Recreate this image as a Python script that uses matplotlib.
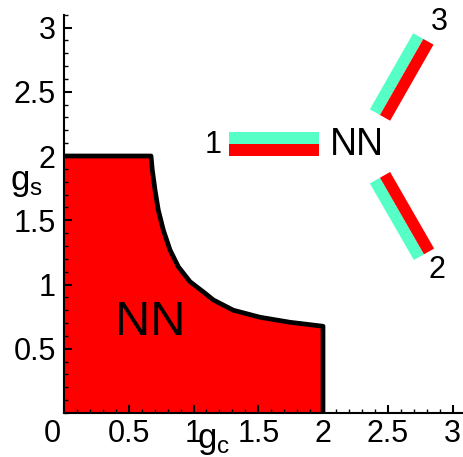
import numpy as np
import matplotlib
matplotlib.use("Agg")
import matplotlib.pyplot as plt
from matplotlib.ticker import MultipleLocator
from matplotlib.transforms import ScaledTranslation

plt.rcParams['font.family'] = ['Liberation Sans', 'DejaVu Sans']
plt.rcParams['mathtext.fontset'] = 'custom'
plt.rcParams['mathtext.rm'] = 'Liberation Sans'

# phase boundary of the NN region
gc_boundary = [0.0, 0.672, 0.682, 0.703, 0.728, 0.767, 0.819, 0.883, 0.973, 1.089,
               1.153, 1.307, 1.514, 1.745, 2.000, 2.000]
gs_boundary = [2.0, 2.000, 1.890, 1.735, 1.580, 1.424, 1.268, 1.138, 1.022, 0.932,
               0.880, 0.800, 0.745, 0.706, 0.675, 0.000]

x_ticks = [0, 0.5, 1, 1.5, 2, 2.5, 3]
x_labels = ['0', '0.5', '1', '1.5', '2', '2.5', '3']
y_ticks = [0.5, 1, 1.5, 2, 2.5, 3]
y_labels = ['0.5', '1', '1.5', '2', '2.5', '3']

region_label = 'NN'

# diagram arms: (inner point, outer point, side of cyan stripe, label, label position)
arm_inner = [(1.969, 2.093), (2.440, 1.831), (2.440, 2.319)]
arm_outer = [(1.274, 2.093), (2.780, 1.235), (2.775, 2.911)]
arm_cyan_side = [-1, -1, 1]
arm_labels = ['1', '2', '3']
arm_label_pos = [(1.151, 2.086), (2.880, 1.113), (2.896, 3.043)]
diagram_center = (2.263, 2.086)

CYAN = '#55FFC6'
RED = '#FF0000'

fig = plt.figure(figsize=(4.63, 4.57), dpi=100)
ax = fig.add_axes([64/463, 44/457, 3.1*129.5/463, 3.1*128.5/457])
ax.set_xlim(0, 3.1)
ax.set_ylim(0, 3.1)

ax.fill_between(gc_boundary, gs_boundary, 0, color=RED, linewidth=0, zorder=1)
ax.plot(gc_boundary, gs_boundary, color='black', lw=3.4, solid_joinstyle='round',
        solid_capstyle='butt', zorder=3, clip_on=False)

ax.text(0.664, 0.708, region_label, fontsize=35, ha='center', va='center', zorder=4)

# diagram
w = 0.09
for (p0, p1, side, lab, lp) in zip(arm_inner, arm_outer, arm_cyan_side, arm_labels, arm_label_pos):
    p0 = np.array(p0); p1 = np.array(p1)
    d = p1 - p0
    d = d / np.linalg.norm(d)
    n = np.array([-d[1], d[0]])
    for sgn, col in ((side, CYAN), (-side, RED)):
        poly = np.array([p0, p1, p1 + sgn * w * n, p0 + sgn * w * n])
        ax.fill(poly[:, 0], poly[:, 1], color=col, lw=0, zorder=2, clip_on=False)
    ax.text(lp[0], lp[1], lab, fontsize=22, ha='center', va='center', zorder=4)
ax.text(diagram_center[0], diagram_center[1], region_label, fontsize=27,
        ha='center', va='center', zorder=4)

# axes styling
for s in ('top', 'right'):
    ax.spines[s].set_visible(False)
for s in ('left', 'bottom'):
    ax.spines[s].set_linewidth(1.5)

ax.set_xticks(x_ticks)
ax.set_xticklabels(x_labels)
ax.set_yticks(y_ticks)
ax.set_yticklabels(y_labels)
ax.xaxis.set_minor_locator(MultipleLocator(0.1))
ax.yaxis.set_minor_locator(MultipleLocator(0.1))
ax.tick_params(which='major', direction='in', length=6, width=1.5, labelsize=22)
ax.tick_params(which='minor', direction='in', length=3, width=1)
ax.tick_params(axis='x', which='major', pad=4)
ax.tick_params(axis='y', which='major', pad=6)

lab0 = ax.get_xticklabels()[0]
lab0.set_transform(lab0.get_transform() + ScaledTranslation(-12/100, 0, fig.dpi_scale_trans))

ax.text(1.027, -0.272, r'$\mathregular{g_c}$', fontsize=25, ha='left', va='baseline', clip_on=False)
ax.text(-0.417, 1.79, r'$\mathregular{g_s}$', fontsize=25, ha='left', va='center', clip_on=False)

fig.savefig('out.png', dpi=100)
